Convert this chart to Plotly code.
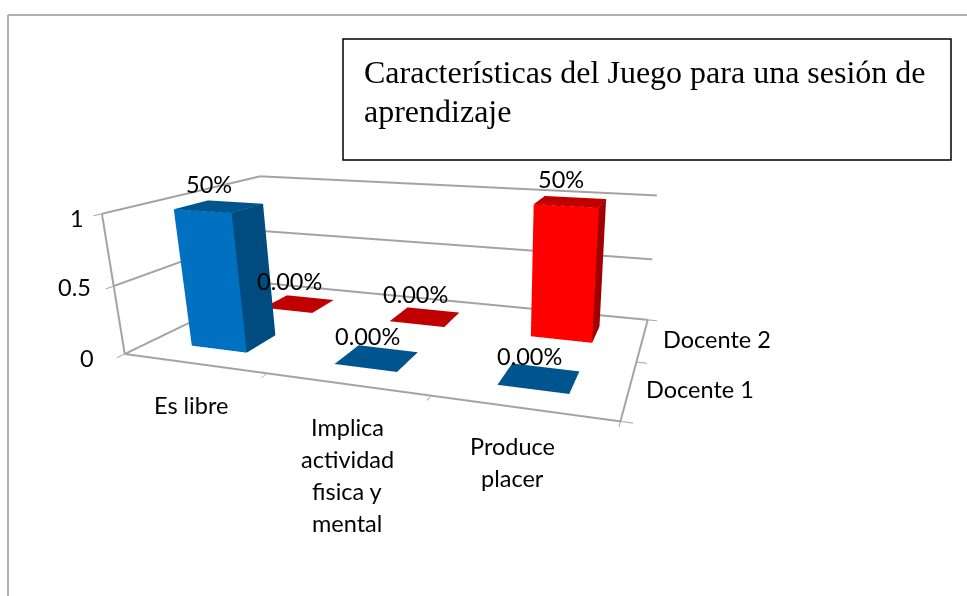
import plotly.graph_objects as go

categories = ['Es libre', 'Implica\nactividad\nfisica y\nmental', 'Produce\nplacer']
series_names = ['Docente 1', 'Docente 2']
docente1 = [1, 0, 0]
docente2 = [0, 0, 1]
labels1 = ['50%', '0.00%', '0.00%']
labels2 = ['0.00%', '0.00%', '50%']
z_ticks = [0, 0.5, 1]
z_ticktext = ['0', '0.5', '1']
bar_width = 0.4
x_max, y_max = len(categories), len(series_names)

line_color = '#a3a3a3'
txt = dict(family='Lato', size=23.5, color='black')
serif = dict(family='Liberation Serif', size=32, color='black')


def add_bar(fig, i, j, v, front, top, side):
    x0, x1 = i + .5 - bar_width / 2, i + .5 + bar_width / 2
    y0, y1 = j + .5 - bar_width / 2, j + .5 + bar_width / 2
    xs = [x0, x1, x1, x0, x0, x1, x1, x0]
    ys = [y0, y0, y1, y1, y0, y0, y1, y1]
    zs = [0, 0, 0, 0, v, v, v, v]
    fig.add_trace(go.Mesh3d(x=xs, y=ys, z=zs,
        i=[0, 0, 1, 1, 4, 4], j=[1, 5, 2, 6, 5, 6], k=[5, 4, 6, 5, 6, 7],
        facecolor=[front, front, side, side, top, top], flatshading=True,
        lighting=dict(ambient=1, diffuse=0, specular=0, fresnel=0, roughness=1),
        hoverinfo='skip', showscale=False))


def add_line(fig, xs, ys, zs):
    fig.add_trace(go.Scatter3d(x=xs, y=ys, z=zs, mode='lines', line=dict(color=line_color, width=4),
                               hoverinfo='skip', showlegend=False))


fig = go.Figure()

# walls and floor edges
for v in z_ticks:
    add_line(fig, [0, 0, x_max], [0, y_max, y_max], [v, v, v])
add_line(fig, [0, x_max, x_max], [0, 0, y_max], [0, 0, 0])
add_line(fig, [0, 0], [0, 0], [0, max(z_ticks)])

# bars, back row first
for i in range(x_max):
    add_bar(fig, i, 1, docente2[i], '#ff0000', '#c00000', '#a00000')
for i in range(x_max):
    if docente1[i] == 0:
        add_bar(fig, i, 0, docente1[i], '#00558f', '#00558f', '#00558f')
    else:
        add_bar(fig, i, 0, docente1[i], '#0070c0', '#00558f', '#004b80')

# texts hang on the 3d positions
cat_xshift = [-3, 1, -10]
cat_yshift = [-42, -43, -38]
tick_xshift = [-29, -21, -16]
tick_yshift = [-4, -1, -4]
series_xshift = [15, 18]
notes = []
for i in range(x_max):
    notes.append(dict(x=i + .5, y=.5, z=docente1[i], text=labels1[i], showarrow=False, font=txt, xshift=-10, yshift=22))
    notes.append(dict(x=i + .5, y=1.5, z=docente2[i], text=labels2[i], showarrow=False, font=txt, xshift=-10, yshift=23))
    for n, line in enumerate(categories[i].split('\n')):
        notes.append(dict(x=i + .5, y=0, z=0, text=line, showarrow=False, font=txt,
                          xshift=cat_xshift[i], yshift=cat_yshift[i] - 32 * n))
for v, s, dx, dy in zip(z_ticks, z_ticktext, tick_xshift, tick_yshift):
    notes.append(dict(x=0, y=0, z=v, text=s, showarrow=False, font=txt, xanchor='right', xshift=dx, yshift=dy))
for j, s in enumerate(series_names):
    notes.append(dict(x=x_max, y=j + .5, z=0, text=s, showarrow=False, font=txt, xanchor='left', xshift=series_xshift[j]))

ax = dict(showbackground=False, showgrid=False, zeroline=False, showline=False,
          ticks='outside', ticklen=8, tickwidth=2, tickcolor=line_color, showticklabels=False, title='', showspikes=False)

fig.update_layout(
    width=967, height=596, margin=dict(l=0, r=0, t=0, b=0), paper_bgcolor='white', showlegend=False,
    scene=dict(
        domain=dict(x=[0, 1], y=[0, 1]),
        camera=dict(eye=dict(x=1.2471, y=-2.8147, z=0.8540), center=dict(x=0.1281, y=0.8281, z=-0.3617),
                    up=dict(x=0, y=0, z=1), projection=dict(type='perspective')),
        aspectmode='manual', aspectratio=dict(x=2.0862, y=1.0966, z=0.6026),
        xaxis=dict(ax, range=[0, x_max], tickvals=list(range(x_max + 1))),
        yaxis=dict(ax, range=[0, y_max], tickvals=list(range(y_max + 1))),
        zaxis=dict(ax, range=[0, 1], tickvals=z_ticks),
        annotations=notes),
    shapes=[
        dict(type='line', xref='paper', yref='paper', x0=8 / 967, x1=1, y0=1 - 15 / 596, y1=1 - 15 / 596, line=dict(color='#b0b0b0', width=2)),
        dict(type='line', xref='paper', yref='paper', x0=8 / 967, x1=8 / 967, y0=0, y1=1 - 15 / 596, line=dict(color='#b0b0b0', width=2)),
        dict(type='rect', xref='paper', yref='paper', x0=343 / 967, x1=951 / 967, y0=1 - 160 / 596, y1=1 - 39 / 596, line=dict(color='black', width=1.5)),
    ],
    annotations=[
        dict(xref='paper', yref='paper', x=362 / 967, y=1 - 72 / 596, text='Características del Juego para una sesión de', showarrow=False,
             xanchor='left', yanchor='middle', font=serif),
        dict(xref='paper', yref='paper', x=362 / 967, y=1 - 111 / 596, text='aprendizaje', showarrow=False,
             xanchor='left', yanchor='middle', font=serif),
    ],
)
fig.write_html('out.html', config=dict(displayModeBar=False), post_script='document.body.style.margin="0"')
